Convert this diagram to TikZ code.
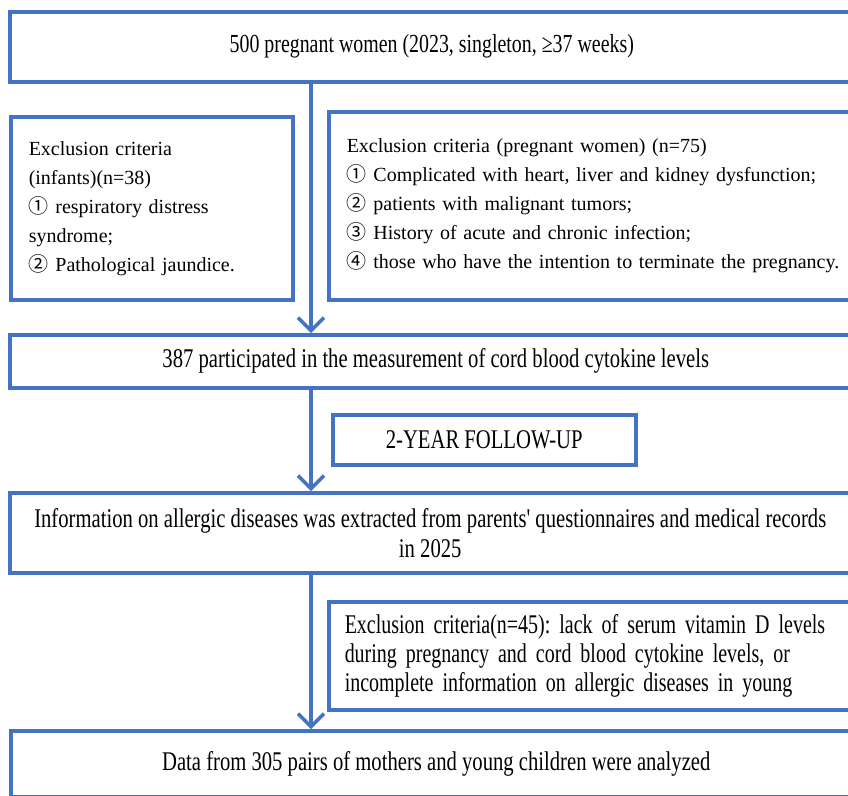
\documentclass[tikz,border=0pt]{standalone}
\usepackage{fontspec}
\setmainfont{Liberation Serif}
\newfontfamily\tallfont{Liberation Serif}[FakeStretch=0.765]
\newfontfamily\narrowfont{Liberation Serif}[FakeStretch=0.74,WordSpace=0.8]
\newfontfamily\circfont{Noto Sans CJK SC}
\usetikzlibrary{arrows.meta}
\definecolor{boxblue}{RGB}{68,114,196}
\newcommand{\cn}[1]{{\circfont #1}}
\frenchspacing
\begin{document}
\begin{tikzpicture}[x=1pt,y=-1pt,
  box/.style={draw=boxblue, line width=3.5pt, rectangle, inner sep=0pt, anchor=north west, text=black},
  talltext/.style={font=\tallfont\fontsize{27}{30}\selectfont, align=center},
  toptext/.style={font=\tallfont\fontsize{26}{30}\selectfont, align=center},
  talllist/.style={font=\narrowfont\fontsize{27}{29}\selectfont, align=left, inner xsep=16pt},
  listtext/.style={font=\fontsize{20}{29}\selectfont, align=left, inner xsep=18pt},
  flow/.style={draw=boxblue, line width=3.5pt, -{Straight Barb[length=13pt,width=26pt]}}
]
\useasboundingbox (0,0) rectangle (848,795);
\clip (0,0) rectangle (848,795);
\fill[white] (0,0) rectangle (848,795);

\node[box, toptext, minimum width=844pt, minimum height=70pt] (top) at (8,10)
  {\raisebox{-2pt}{500 pregnant women (2023, singleton, ≥37 weeks)}};

\node[box, listtext, text width=246pt, minimum height=183pt] (exinf) at (9,115)
  {Exclusion criteria\\
   (infants)(n=38)\\
   \cn{①} respiratory distress\\
   syndrome;\\
   \cn{②} Pathological jaundice.};

\node[box, listtext, text width=524pt, minimum height=188pt] (exmom) at (327,110)
  {Exclusion criteria (pregnant women) (n=75)\\
   \cn{①} Complicated with heart, liver and kidney dysfunction;\\
   \cn{②} patients with malignant tumors;\\
   \cn{③} History of acute and chronic infection;\\
   \cn{④} those who have the intention to terminate the pregnancy.};

\node[box, talltext, minimum width=852pt, minimum height=53pt] (b387) at (8,333)
  {387 participated in the measurement of cord blood cytokine levels};

\node[box, talltext, minimum width=303pt, minimum height=50pt] (fu) at (331,413)
  {2-YEAR FOLLOW-UP};

\node[box, talltext, minimum width=841pt, minimum height=80pt] (info) at (8,491)
  {Information on allergic diseases was extracted from parents' questionnaires and medical records\\
   in 2025};

\node[box, talllist, text width=528pt, minimum height=108pt] (ex45) at (327,600)
  {Exclusion criteria(n=45): lack of serum vitamin D levels\\
   during pregnancy and cord blood cytokine levels, or\\
   incomplete information on allergic diseases in young};

\node[box, talltext, minimum width=851pt, minimum height=66pt] (final) at (9,729)
  {Data from 305 pairs of mothers and young children were analyzed};

\coordinate (spine) at (311,0);
\draw[flow] (top.south -| spine) -- (b387.north -| spine);
\draw[flow] (b387.south -| spine) -- (info.north -| spine);
\draw[flow] (info.south -| spine) -- (final.north -| spine);
\end{tikzpicture}
\end{document}
